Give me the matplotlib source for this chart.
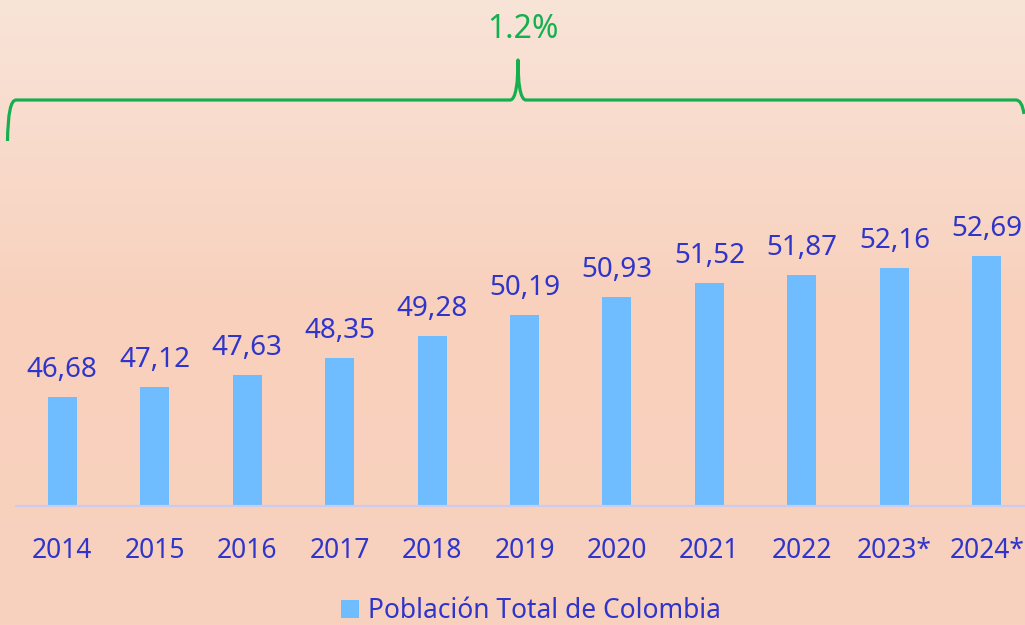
import numpy as np
import matplotlib
matplotlib.use('Agg')
import matplotlib.pyplot as plt
import matplotlib.colors as mcolors
from matplotlib.path import Path
from matplotlib.patches import PathPatch, Patch

# ---- data ----
years = ['2014', '2015', '2016', '2017', '2018', '2019', '2020', '2021', '2022', '2023*', '2024*']
population = [46.68, 47.12, 47.63, 48.35, 49.28, 50.19, 50.93, 51.52, 51.87, 52.16, 52.69]
series_name = 'Población Total de Colombia'
growth_label = '1.2%'

# ---- style ----
plt.rcParams['font.family'] = ['Noto Sans', 'DejaVu Sans']
TEXT_BLUE = '#2F35CA'
BAR_BLUE = '#6FBCFF'
GREEN = '#14B050'
AXIS_LINE = '#C9CBF2'

W, H = 1025, 625
fig = plt.figure(figsize=(W / 100, H / 100), dpi=100)

# background gradient
bg = fig.add_axes([0, 0, 1, 1], zorder=-10)
bg.axis('off')
cmap = mcolors.LinearSegmentedColormap.from_list(
    'bg', [(0.0, '#F9E4D8'), (0.5, '#F8D0BC'), (1.0, '#F9D2BF')])
grad = np.linspace(0, 1, 256).reshape(-1, 1)
bg.imshow(grad, cmap=cmap, aspect='auto', extent=[0, 1, 0, 1], origin='upper')

# main axes
ax = fig.add_axes([16 / W, 119 / H, 1017 / W, 356 / H])
ax.set_facecolor('none')
x = np.arange(len(years))
ax.bar(x, population, width=0.314, color=BAR_BLUE, label=series_name, zorder=2)
ax.set_xlim(-0.5, len(years) - 0.5)
ax.set_ylim(42.03, 57.2)

for s in ['top', 'right', 'left']:
    ax.spines[s].set_visible(False)
ax.spines['bottom'].set_color(AXIS_LINE)
ax.spines['bottom'].set_linewidth(1.6)
ax.set_yticks([])
ax.set_xticks(x, years)
ax.tick_params(axis='x', length=0, pad=22, labelsize=19, labelcolor=TEXT_BLUE)

for xi, v in zip(x, population):
    ax.annotate(f'{v:.2f}'.replace('.', ','), (xi, v), xytext=(0, 14.4),
                textcoords='offset points', ha='center', va='baseline',
                fontsize=20, color=TEXT_BLUE)

# brace annotation (figure pixel coordinates)
def px(xp, yp):
    return (xp / W, 1 - yp / H)

verts = [px(7.5, 141), px(8, 100), px(16, 100),
         px(510, 100),
         px(516, 100), px(518, 82), px(518, 60),
         px(518, 82), px(520, 100), px(526, 100),
         px(1016, 100),
         px(1022, 100), px(1024, 114)]
codes = [Path.MOVETO, Path.CURVE3, Path.CURVE3,
         Path.LINETO,
         Path.CURVE4, Path.CURVE4, Path.CURVE4,
         Path.CURVE4, Path.CURVE4, Path.CURVE4,
         Path.LINETO,
         Path.CURVE3, Path.CURVE3]
brace = PathPatch(Path(verts, codes), fill=False, edgecolor=GREEN, lw=2.3,
                  transform=fig.transFigure, capstyle='butt', joinstyle='round')
fig.add_artist(brace)
fig.text(523 / W, 1 - 38 / H, growth_label, ha='center', va='baseline',
         fontsize=23, color=GREEN)

# legend
fig.legend(handles=[Patch(facecolor=BAR_BLUE, label=series_name)],
           loc='lower center', bbox_to_anchor=(531 / W, 0.0), frameon=False,
           fontsize=19, labelcolor=TEXT_BLUE, handlelength=0.7, handleheight=0.7,
           handletextpad=0.35, borderpad=0.0, borderaxespad=0.0)

fig.savefig('out.png', dpi=100)
